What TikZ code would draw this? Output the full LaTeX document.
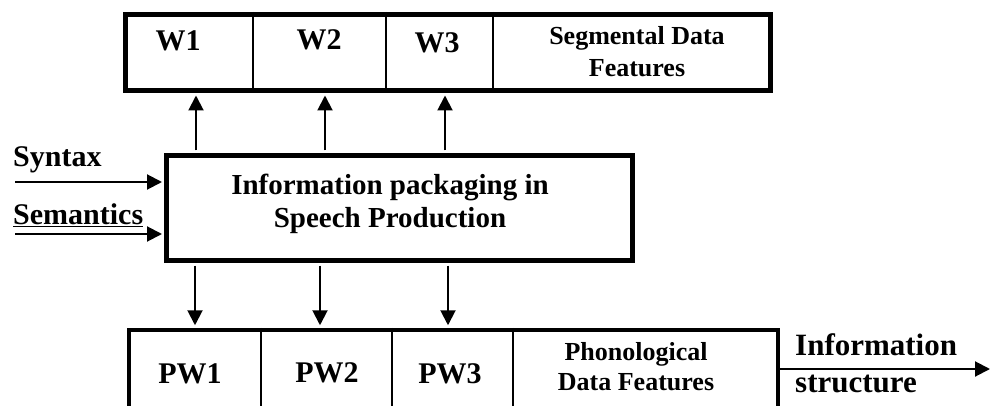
\documentclass[tikz,border=0pt]{standalone}
\usepackage{fontspec}
\setmainfont{Liberation Serif}
\usetikzlibrary{arrows.meta}
\tikzset{
  box/.style={draw, line width=5pt, inner sep=0pt},
  divider/.style={line width=1.5pt},
  arr/.style={line width=2pt, -{Triangle[length=15pt,width=15pt]}},
  big/.style={font=\fontsize{30}{36}\selectfont\bfseries, inner sep=0pt, anchor=base},
  mid/.style={font=\fontsize{29}{34}\selectfont\bfseries, inner sep=0pt, anchor=base},
  small/.style={font=\fontsize{26}{31}\selectfont\bfseries, inner sep=0pt, anchor=base},
}
\begin{document}
\begin{tikzpicture}[x=1pt,y=-1pt]
\useasboundingbox (0,0) rectangle (990,406);
\clip (0,0) rectangle (990,406);
% boxes
\node[box, minimum width=645pt, minimum height=76pt] (top) at (448,52.5) {};
\node[box, minimum width=466pt, minimum height=105pt] (core) at (399.5,208) {};
\node[box, line width=4.5pt, minimum width=649pt, minimum height=90pt] (bot) at (453.5,375) {};
% dividers
\foreach \x in {253,386,493} \draw[divider] (top.north -| \x,0) -- (top.south -| \x,0);
\foreach \x in {261,392,513} \draw[divider] (bot.north -| \x,0) -- (bot.south -| \x,0);
% top texts
\node[big] (w1) at (178,51) {W1};
\node[big] (w2) at (319,50) {W2};
\node[big] (w3) at (437,53) {W3};
\node[small] (seg1) at (637,45) {Segmental Data};
\node[small] (seg2) at (637,77) {Features};
% core texts
\node[mid] (core1) at (390,195) {Information packaging in};
\node[mid] (core2) at (390,227) {Speech Production};
% bottom texts
\node[big] (pw1) at (190,383) {PW1};
\node[big] (pw2) at (327,382) {PW2};
\node[big] (pw3) at (450,383) {PW3};
\node[small] (ph1) at (636,360) {Phonological};
\node[small] (ph2) at (636,390) {Data Features};
% left inputs
\node[big, anchor=base west] (syn) at (13,167) {Syntax};
\node[big, anchor=base west] (sem) at (13,225) {\underline{Semantics}};
\coordinate (synstart) at (15,182);
\coordinate (semstart) at (15,234);
\draw[arr, shorten >=2pt] (synstart) -- (synstart -| core.west);
\draw[arr, shorten >=2pt] (semstart) -- (semstart -| core.west);
% up arrows
\foreach \x in {196,325,445}
  \draw[arr, shorten >=2.5pt, shorten <=2.5pt] (core.north -| \x,0) -- (top.south -| \x,0);
% down arrows
\foreach \x in {195,320,448}
  \draw[arr, shorten >=2.5pt, shorten <=2.5pt] (core.south -| \x,0) -- (bot.north -| \x,0);
% output
\node[font=\fontsize{31}{37}\selectfont\bfseries, inner sep=0pt, anchor=base west] (inf1) at (795,355) {Information};
\node[font=\fontsize{31}{37}\selectfont\bfseries, inner sep=0pt, anchor=base west] (inf2) at (795,392) {structure};
\coordinate (outend) at (990,369);
\draw[arr] (bot.east |- outend) -- (outend);
\end{tikzpicture}
\end{document}
